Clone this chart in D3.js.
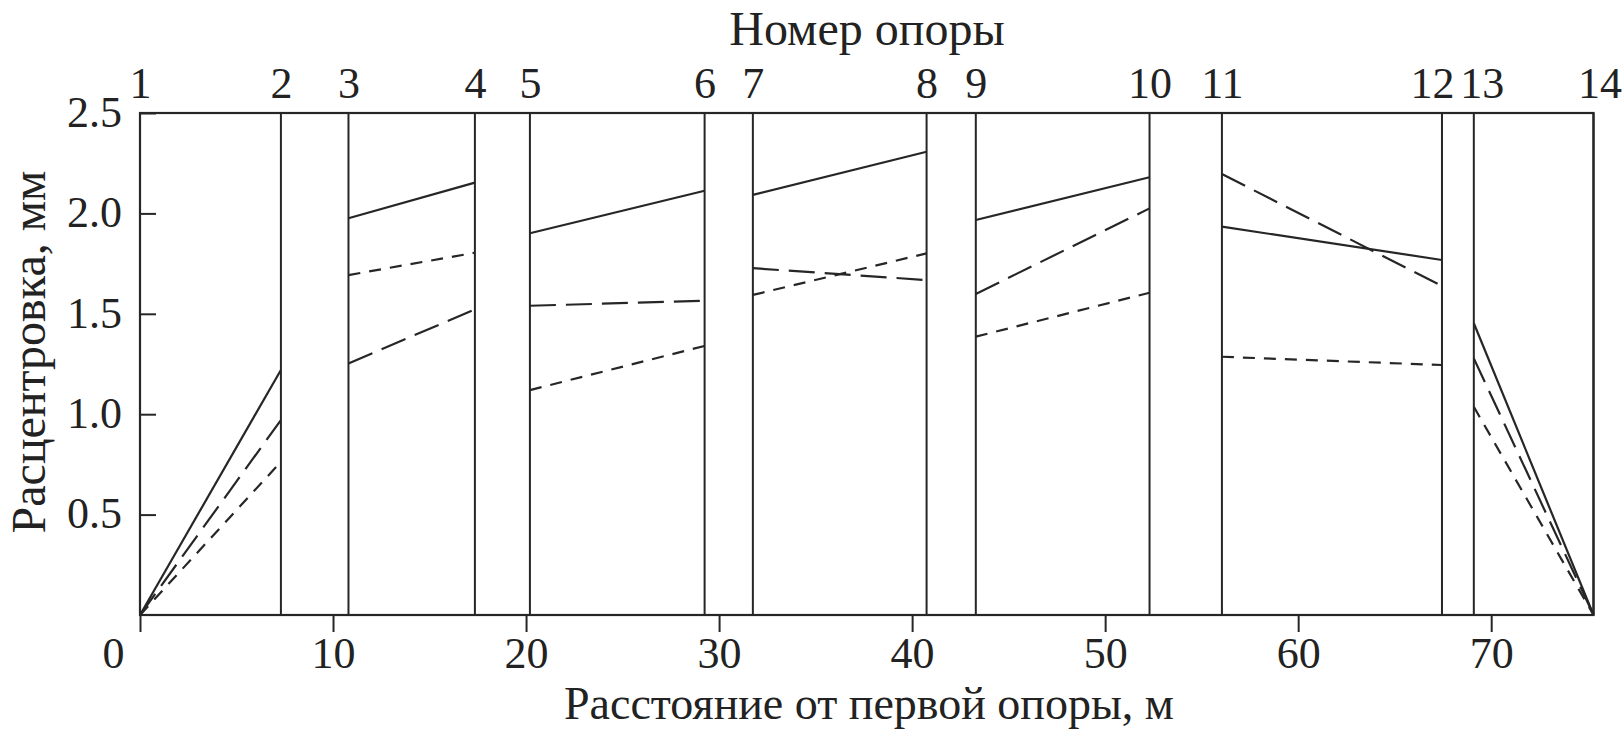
<!DOCTYPE html>
<html>
<head>
<meta charset="utf-8">
<script src="https://cdn.jsdelivr.net/npm/d3@7"></script>
<style>
  html, body { margin: 0; padding: 0; background: #fff; }
  svg { display: block; }
  .axis text { font-family: "Liberation Serif", "Times New Roman", serif; font-size: 44px; fill: #222; }
  .title { font-family: "Liberation Serif", "Times New Roman", serif; font-size: 48px; fill: #222; }
</style>
</head>
<body>
<script>
// номера опор и их расстояние от первой опоры, м
const supportNo = [1, 2, 3, 4, 5, 6, 7, 8, 9, 10, 11, 12, 13, 14];
const supportDist = [0, 7.3, 10.8, 17.35, 20.2, 29.25, 31.75, 40.75, 43.3, 52.3, 56.05, 67.45, 69.1, 75.3];

// пролёты: индексы опор начала и конца
const spans = [[0, 1], [2, 3], [4, 5], [6, 7], [8, 9], [10, 11], [12, 13]];

// расцентровка в начале и конце каждого пролёта, мм
const solidVals = [[0, 1.22], [1.976, 2.153], [1.901, 2.113], [2.092, 2.307], [1.967, 2.18], [1.934, 1.768], [1.453, 0]];
const longDashVals = [[0, 0.971], [1.253, 1.522], [1.54, 1.565], [1.727, 1.668], [1.599, 2.025], [2.196, 1.638], [1.278, 0]];
const shortDashVals = [[0, 0.763], [1.693, 1.804], [1.12, 1.34], [1.594, 1.801], [1.386, 1.605], [1.286, 1.245], [1.037, 0]];

const xTicks = [0, 10, 20, 30, 40, 50, 60, 70];
const yTicks = [0.5, 1.0, 1.5, 2.0, 2.5];

const object = createSVG();
setBaseValue();
drawFrame(object);
drawSupports(object);
drawSeries(object);
drawXAxis(object);
drawYAxis(object);
drawTopAxis(object);
drawTitles(object);

function createSVG(){
  return d3.select(document.body)
    .append('svg')
    .attr('width', 1623)
    .attr('height', 729);
}

function setBaseValue(){
  window.base = {};
  base.svgWidth = 1623;
  base.svgHeight = 729;
  base.trbl = { top: 113, right: 29.5, bottom: 114, left: 140 };
  base.x = d3.scaleLinear()
    .domain([0, 75.3])
    .range([base.trbl.left, base.svgWidth - base.trbl.right]);
  base.y = d3.scaleLinear()
    .domain([0, 2.5])
    .range([base.svgHeight - base.trbl.bottom, base.trbl.top]);
  base.ink = '#262626';
}

function drawFrame(object){
  const [x0, x1] = base.x.range();
  const [y0, y1] = base.y.range();
  object.append('rect')
    .attr('x', x0).attr('y', y1)
    .attr('width', x1 - x0).attr('height', y0 - y1)
    .attr('fill', 'none')
    .attr('stroke', base.ink)
    .attr('stroke-width', 2.2);
}

function drawSupports(object){
  // вертикальные линии опор на всю высоту
  object.append('g')
    .selectAll('line')
    .data(supportDist)
    .join('line')
    .attr('x1', d => base.x(d)).attr('x2', d => base.x(d))
    .attr('y1', base.y(0)).attr('y2', base.y(2.5))
    .attr('stroke', base.ink)
    .attr('stroke-width', 2);
}

function drawSeries(object){
  const series = [
    { vals: solidVals, dash: null },
    { vals: longDashVals, dash: '26,10' },
    { vals: shortDashVals, dash: '12,9' }
  ];
  const line = d3.line()
    .x(d => base.x(d[0]))
    .y(d => base.y(d[1]));

  series.forEach(s => {
    const segs = spans.map((sp, i) => [
      [supportDist[sp[0]], s.vals[i][0]],
      [supportDist[sp[1]], s.vals[i][1]]
    ]);
    object.append('g')
      .selectAll('path')
      .data(segs)
      .join('path')
      .attr('d', line)
      .attr('fill', 'none')
      .attr('stroke', base.ink)
      .attr('stroke-width', 2.2)
      .attr('stroke-dasharray', s.dash);
  });
}

function drawXAxis(object){
  const xAxis = d3.axisBottom(base.x)
    .tickValues(xTicks)
    .tickFormat(d3.format('d'))
    .tickSizeInner(17)
    .tickSizeOuter(0)
    .tickPadding(5);
  const g = object.append('g')
    .attr('class', 'axis')
    .attr('transform', `translate(0, ${base.y(0)})`)
    .call(xAxis);
  g.select('.domain').remove();
  g.selectAll('.tick line').attr('stroke', base.ink).attr('stroke-width', 2);
  // подпись 0 сдвинута левее угла
  g.selectAll('.tick text').filter(d => d === 0).attr('dx', -27);
}

function drawYAxis(object){
  const yAxis = d3.axisLeft(base.y)
    .tickValues(yTicks)
    .tickFormat(d3.format('.1f'))
    .tickSizeInner(-16)
    .tickSizeOuter(0)
    .tickPadding(18);
  const g = object.append('g')
    .attr('class', 'axis')
    .attr('transform', `translate(${base.trbl.left}, 0)`)
    .call(yAxis);
  g.select('.domain').remove();
  g.selectAll('.tick line').attr('stroke', base.ink).attr('stroke-width', 2);
  g.selectAll('.tick text').attr('dy', '0.3em');
}

function drawTopAxis(object){
  const nudge = { 12: -10, 13: 8, 14: 6 };
  const topAxis = d3.axisTop(base.x)
    .tickValues(supportDist)
    .tickFormat((d, i) => supportNo[i])
    .tickSize(0)
    .tickPadding(15);
  const g = object.append('g')
    .attr('class', 'axis')
    .attr('transform', `translate(0, ${base.y(2.5)})`)
    .call(topAxis);
  g.select('.domain').remove();
  g.selectAll('.tick text')
    .attr('dx', (d, i) => nudge[supportNo[i]] || 0);
}

function drawTitles(object){
  object.append('text')
    .attr('class', 'title')
    .attr('x', 867).attr('y', 45)
    .attr('text-anchor', 'middle')
    .text('Номер опоры');
  object.append('text')
    .attr('class', 'title')
    .attr('x', 869).attr('y', 719)
    .attr('text-anchor', 'middle')
    .style('font-size', '46px')
    .text('Расстояние от первой опоры, м');
  object.append('text')
    .attr('class', 'title')
    .attr('transform', 'translate(45, 352) rotate(-90)')
    .attr('text-anchor', 'middle')
    .text('Расцентровка, мм');
}
</script>
</body>
</html>
